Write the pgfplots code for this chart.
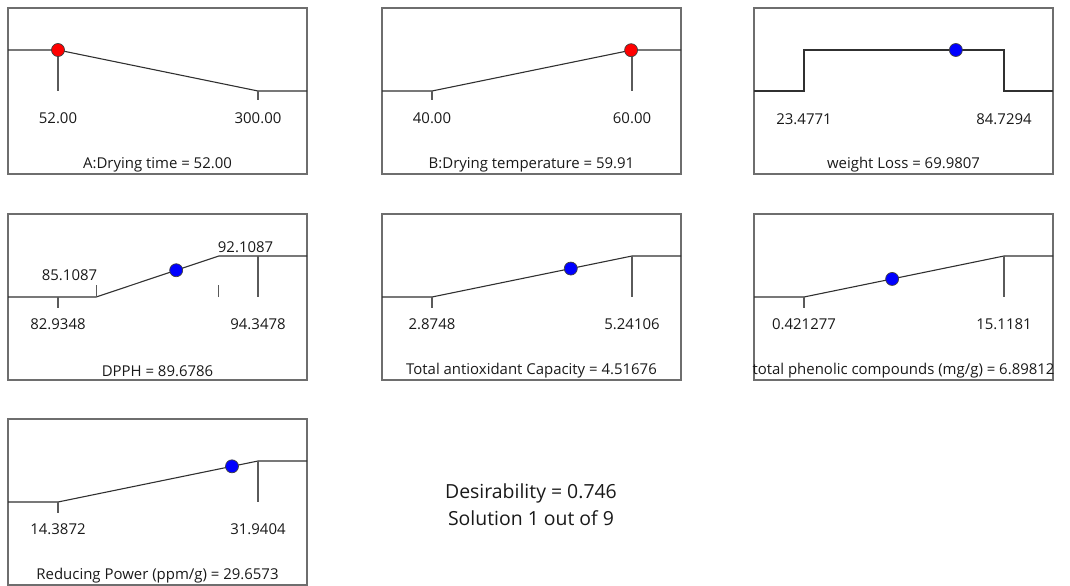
\documentclass[border=0pt]{standalone}
\usepackage{fontspec}
\setmainfont{Open Sans}
\usepackage{pgfplots}
\pgfplotsset{compat=1.18}
\definecolor{framegray}{HTML}{6E6E6E}
\definecolor{curvecol}{HTML}{303030}
\definecolor{tickcol}{HTML}{5A5A5A}
\newcommand{\lbl}{\fontsize{15}{18}\selectfont}
\newcommand{\bigtxt}{\fontsize{19.5}{23}\selectfont}
\pgfplotsset{
  panel/.style={scale only axis, width=299bp, height=166bp,
    ymin=-2.0244, ymax=2.0244, xtick=\empty, ytick=\empty,
    axis line style={draw=framegray, line width=1.2pt},
    clip=false, anchor=north west},
  curve/.style={draw=curvecol, line width=1.1pt, mark=none},
  tickl/.style={draw=tickcol, line width=1.1pt, mark=none},
  dotr/.style={only marks, mark=*, mark size=6.5bp, mark options={fill=red, draw=black!75, line width=0.7pt}},
  dotb/.style={only marks, mark=*, mark size=6.5bp, mark options={fill=blue, draw=black!75, line width=0.7pt}},
}
\begin{document}
\begin{tikzpicture}
\tikzset{every node/.style={font=\lbl, text=black!90, inner sep=0pt}}
% ---------- A: Drying time
\begin{axis}[panel, at={(8bp,-8bp)}, xmin=-10, xmax=360.76]
\addplot[curve] coordinates {(-10,1) (52,1) (300,0) (360.76,0)};
\addplot[tickl] coordinates {(52,1) (52,0)};
\addplot[tickl] coordinates {(300,0) (300,-0.22)};
\addplot[dotr] coordinates {(52,1)};
\node at (axis cs:52,-0.66) {52.00};
\node at (axis cs:300,-0.66) {300.00};
\node at (rel axis cs:0.5,0.055) {A:Drying time = 52.00};
\end{axis}
% ---------- B: Drying temperature
\begin{axis}[panel, at={(382bp,-8bp)}, xmin=35, xmax=64.9]
\addplot[curve] coordinates {(35,0) (40,0) (60,1) (64.9,1)};
\addplot[tickl] coordinates {(40,0) (40,-0.22)};
\addplot[tickl] coordinates {(60,1) (60,0)};
\addplot[dotr] coordinates {(59.91,0.9955)};
\node at (axis cs:40,-0.66) {40.00};
\node at (axis cs:60,-0.66) {60.00};
\node at (rel axis cs:0.5,0.055) {B:Drying temperature = 59.91};
\end{axis}
% ---------- weight Loss
\begin{axis}[panel, at={(754bp,-8bp)}, xmin=8.164, xmax=99.736]
\addplot[curve] coordinates {(8.164,0) (23.4771,0) (23.4771,1) (84.7294,1) (84.7294,0) (99.736,0)};
\addplot[dotb] coordinates {(69.9807,1)};
\node at (axis cs:23.4771,-0.68) {23.4771};
\node at (axis cs:84.7294,-0.68) {84.7294};
\node at (rel axis cs:0.5,0.055) {weight Loss = 69.9807};
\end{axis}
% ---------- DPPH
\begin{axis}[panel, at={(8bp,-214bp)}, xmin=80.0815, xmax=97.144]
\addplot[curve] coordinates {(80.0815,0) (85.1087,0) (92.1087,1) (97.144,1)};
\addplot[tickl] coordinates {(82.9348,0) (82.9348,-0.26)};
\addplot[tickl] coordinates {(85.1087,0) (85.1087,0.29)};
\addplot[tickl] coordinates {(92.1087,0) (92.1087,0.29)};
\addplot[tickl] coordinates {(94.3478,1) (94.3478,0)};
\addplot[dotb] coordinates {(89.6786,0.6528)};
\node at (axis cs:82.9348,-0.66) {82.9348};
\node[anchor=east] at (axis cs:85.18,0.537) {85.1087};
\node[anchor=west] at (axis cs:92.05,1.225) {92.1087};
\node at (axis cs:94.3478,-0.66) {94.3478};
\node at (rel axis cs:0.5,0.055) {DPPH = 89.6786};
\end{axis}
% ---------- Total antioxidant Capacity
\begin{axis}[panel, at={(382bp,-214bp)}, xmin=2.2832, xmax=5.8208]
\addplot[curve] coordinates {(2.2832,0) (2.8748,0) (5.24106,1) (5.8208,1)};
\addplot[tickl] coordinates {(2.8748,0) (2.8748,-0.26)};
\addplot[tickl] coordinates {(5.24106,1) (5.24106,0)};
\addplot[dotb] coordinates {(4.51676,0.6939)};
\node at (axis cs:2.8748,-0.66) {2.8748};
\node at (axis cs:5.24106,-0.66) {5.24106};
\node at (rel axis cs:0.5,0.055) {Total antioxidant Capacity = 4.51676};
\end{axis}
% ---------- total phenolic compounds
\begin{axis}[panel, at={(754bp,-214bp)}, xmin=-3.25293, xmax=18.71882]
\addplot[curve] coordinates {(-3.25293,0) (0.421277,0) (15.1181,1) (18.71882,1)};
\addplot[tickl] coordinates {(0.421277,0) (0.421277,-0.26)};
\addplot[tickl] coordinates {(15.1181,1) (15.1181,0)};
\addplot[dotb] coordinates {(6.89812,0.4407)};
\node at (axis cs:0.421277,-0.66) {0.421277};
\node at (axis cs:15.1181,-0.66) {15.1181};
\node at (rel axis cs:0.5,0.055) {total phenolic compounds (mg/g) = 6.89812};
\end{axis}
% ---------- Reducing Power
\begin{axis}[panel, at={(8bp,-419bp)}, xmin=9.9989, xmax=36.2409]
\addplot[curve] coordinates {(9.9989,0) (14.3872,0) (31.9404,1) (36.2409,1)};
\addplot[tickl] coordinates {(14.3872,0) (14.3872,-0.26)};
\addplot[tickl] coordinates {(31.9404,1) (31.9404,0)};
\addplot[dotb] coordinates {(29.6573,0.8699)};
\node at (axis cs:14.3872,-0.66) {14.3872};
\node at (axis cs:31.9404,-0.66) {31.9404};
\node at (rel axis cs:0.5,0.055) {Reducing Power (ppm/g) = 29.6573};
\end{axis}
\node[font=\bigtxt, anchor=base] at (531bp,-498bp) {Desirability = 0.746};
\node[font=\bigtxt, anchor=base] at (531bp,-525bp) {Solution 1 out of 9};
\pgfresetboundingbox
\path (0bp,0bp) rectangle (1070bp,-586bp);
\end{tikzpicture}
\end{document}
